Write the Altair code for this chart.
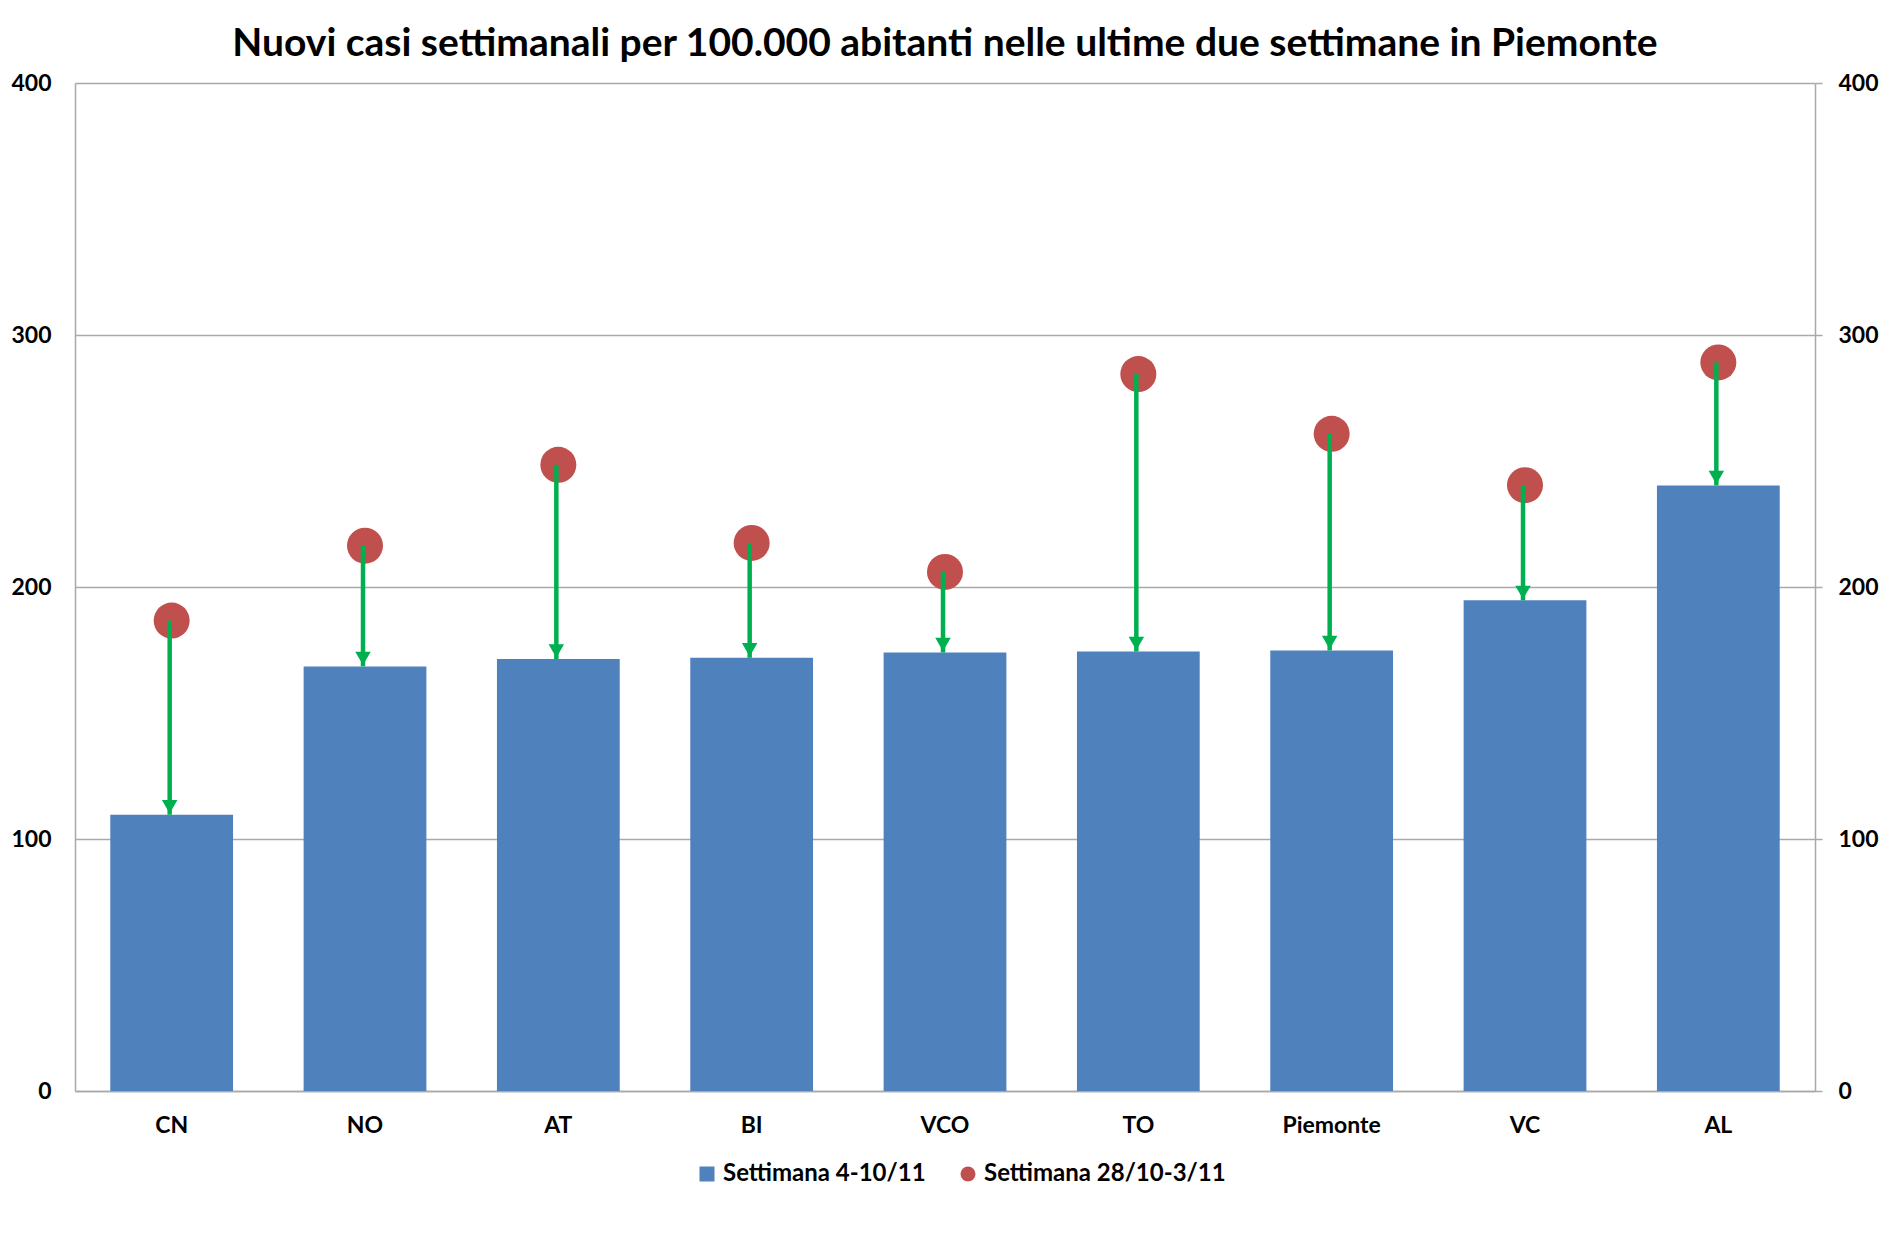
import altair as alt
import pandas as pd

categories = ["CN", "NO", "AT", "BI", "VCO", "TO", "Piemonte", "VC", "AL"]
week_current = [109.6, 168.5, 171.4, 171.9, 174.0, 174.4, 174.8, 194.7, 240.3]
week_previous = [186.7, 216.4, 248.5, 217.5, 206.0, 284.5, 260.8, 240.4, 289.1]
series_names = ["Settimana 4-10/11", "Settimana 28/10-3/11"]
y_ticks = [0, 100, 200, 300, 400]

df = pd.DataFrame({"cat": categories, "curr": week_current, "prev": week_previous})

FONT = "Lato"
BLUE = "#4F81BD"
RED = "#C0504D"
GREEN = "#00B050"
GRID = "#A9A9A9"

xenc = alt.X(
    "cat:N",
    sort=categories,
    title=None,
    scale=alt.Scale(paddingInner=0.365, paddingOuter=0.1825),
    axis=alt.Axis(
        labelAngle=0, labelFont=FONT, labelFontSize=23, labelFontWeight="bold",
        labelColor="black", ticks=False, tickSize=0, labelPadding=23,
        domainColor=GRID, domainWidth=1.5, grid=False,
    ),
)
yscale = alt.Scale(domain=[0, 400], nice=False, zero=True)

color = alt.Color(
    "series:N",
    scale=alt.Scale(domain=series_names, range=[BLUE, RED]),
    legend=alt.Legend(title=None),
)
shape = alt.Shape(
    "series:N",
    scale=alt.Scale(domain=series_names, range=["square", "circle"]),
    legend=alt.Legend(title=None),
)

left_axis = alt.Axis(
    values=y_ticks, labelFont=FONT, labelFontSize=23, labelFontWeight="bold",
    labelColor="black", ticks=False, tickSize=0, labelPadding=24,
    domainColor=GRID, domainWidth=1.5, grid=True, gridColor=GRID, gridWidth=1.5,
    title=None,
)
right_axis = alt.Axis(
    orient="right", values=y_ticks, labelFont=FONT, labelFontSize=23,
    labelFontWeight="bold", labelColor="black", ticks=True, tickSize=7,
    tickColor=GRID, tickWidth=1.5, labelPadding=16, domainColor=GRID,
    domainWidth=1.5, grid=False, title=None,
)

bars = alt.Chart(df).transform_calculate(series=f'"{series_names[0]}"').mark_bar(
    opacity=1
).encode(
    x=xenc,
    y=alt.Y("curr:Q", scale=yscale, axis=left_axis),
    color=color,
)

dots = alt.Chart(df).transform_calculate(series=f'"{series_names[1]}"').mark_point(
    filled=True, size=1296, opacity=1, strokeWidth=0
).encode(
    x=xenc,
    y=alt.Y("prev:Q", scale=yscale, axis=left_axis),
    color=color,
    shape=shape,
)

arrows = alt.Chart(df).mark_rule(color=GREEN, strokeWidth=4.5, xOffset=-2).encode(
    x=xenc,
    y=alt.Y("prev:Q", scale=yscale, axis=left_axis),
    y2="curr:Q",
)

heads = alt.Chart(df).mark_point(
    shape="triangle-down", filled=True, size=240, color=GREEN, opacity=1,
    yOffset=-8, xOffset=-2, strokeWidth=0,
).encode(
    x=xenc,
    y=alt.Y("curr:Q", scale=yscale, axis=left_axis),
)

main = alt.layer(bars, dots, arrows, heads)

right = alt.Chart(df).mark_bar(opacity=0).encode(
    x=xenc,
    y=alt.Y("curr:Q", scale=yscale, axis=right_axis),
)

chart = alt.layer(main, right).resolve_scale(y="independent").properties(
    width=1740,
    height=1008,
    padding={"left": 67, "top": 75, "right": 75, "bottom": 140},
    autosize=alt.AutoSizeParams(type="none"),
    title=alt.TitleParams(
        "Nuovi casi settimanali per 100.000 abitanti nelle ultime due settimane in Piemonte",
        font=FONT, fontSize=39, fontWeight="bold", color="black",
        anchor="middle", frame="group", offset=8,
    ),
).configure_view(strokeWidth=0).configure_legend(
    orient="none", legendX=620, legendY=1079, direction="horizontal",
    labelFont=FONT, labelFontSize=24, labelFontWeight="bold", labelColor="black",
    symbolSize=225, symbolStrokeWidth=0, symbolOpacity=1, labelOffset=4,
    columnPadding=30, labelLimit=400,
)

chart.save("out.html", embed_options={"renderer": "svg", "actions": False})
